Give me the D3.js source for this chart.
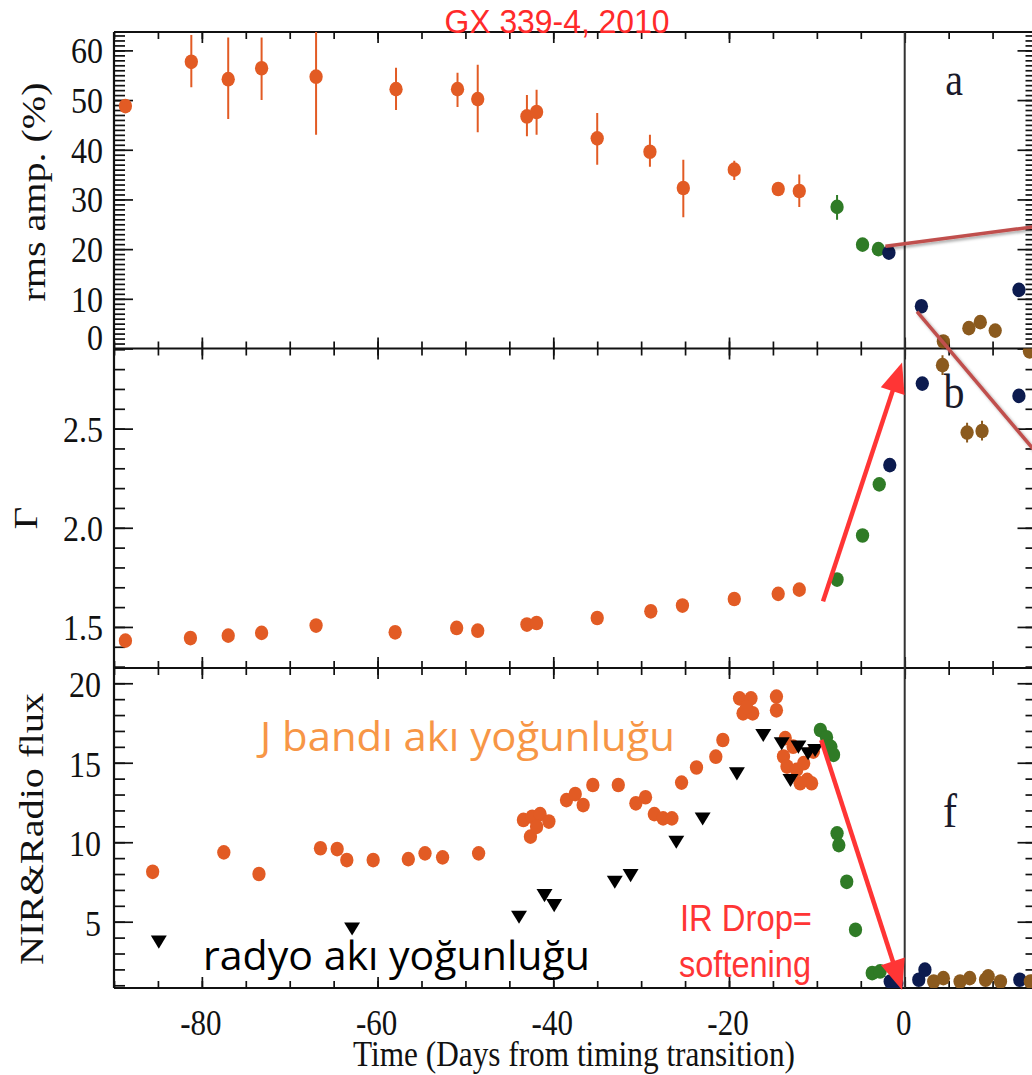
<!DOCTYPE html>
<html>
<head>
<meta charset="utf-8">
<script src="https://cdn.jsdelivr.net/npm/d3@7"></script>
<style>
  body { margin: 0; background: #fff; }
  svg { display: block; }
</style>
</head>
<body>
<svg id="chart" width="1032" height="1075"></svg>
<script>
// ---- Data: [day, value, errLow, errHigh] ----
// Panel a: fractional rms amplitude (%)
const rmsHard = [
  [-88.7, 48.8], [-81.2, 57.7, 52.6, 63.1], [-77.0, 54.2, 46.2, 62.6],
  [-73.2, 56.4, 50.0, 62.6], [-67.0, 54.7, 43.0, 64.5], [-57.9, 52.2, 48.0, 56.5],
  [-50.9, 52.2, 48.6, 55.5], [-48.6, 50.2, 43.5, 57.1], [-43.0, 46.7, 42.7, 51.0],
  [-41.9, 47.6, 43.0, 52.1], [-35.0, 42.3, 37.0, 47.4], [-29.0, 39.6, 36.6, 43.0],
  [-25.2, 32.3, 26.4, 38.0], [-19.4, 36.0, 33.9, 37.8], [-14.4, 32.1, 31.0, 33.2],
  [-12.0, 31.7, 28.5, 35.0]
];
const rmsHIMS = [[-7.7, 28.5, 25.9, 30.9], [-4.8, 20.9], [-3.0, 20.0]];
const rmsSIMS = [[-1.8, 19.3], [1.9, 8.5], [13.0, 11.8]];
const rmsSoft = [[4.4, 1.4], [7.3, 4.1], [8.6, 5.3], [10.3, 3.6]];

// Panel b: photon index
const gammaHard = [
  [-88.7, 1.431], [-81.3, 1.444], [-77.0, 1.456], [-73.2, 1.470], [-67.0, 1.507],
  [-58.0, 1.473], [-51.0, 1.495], [-48.6, 1.481], [-43.0, 1.512], [-41.9, 1.520],
  [-35.0, 1.545], [-28.9, 1.579], [-25.3, 1.608], [-19.4, 1.641], [-14.4, 1.667],
  [-12.0, 1.688]
];
const gammaHIMS = [[-7.7, 1.739], [-4.8, 1.961], [-2.9, 2.219]];
const gammaSIMS = [[-1.7, 2.316], [2.0, 2.727, 2.70, 2.755], [13.0, 2.665]];
const gammaSoft = [[4.3, 2.82, 2.77, 2.87], [7.1, 2.48, 2.43, 2.53], [8.8, 2.488, 2.44, 2.54], [14.2, 2.89]];

// Panel f: J-band (NIR) and radio flux
const nirHard = [
  [-85.6, 8.14], [-77.5, 9.36], [-73.5, 8.00], [-66.5, 9.62], [-64.6, 9.57],
  [-63.5, 8.88], [-60.5, 8.88], [-56.5, 8.94], [-54.6, 9.30], [-52.6, 9.05],
  [-48.5, 9.30], [-43.4, 11.40], [-42.4, 11.60], [-41.5, 11.77], [-40.5, 11.30],
  [-42.6, 10.35], [-41.9, 10.97], [-38.5, 12.65], [-37.5, 13.03], [-36.6, 12.34],
  [-35.5, 13.60], [-32.6, 13.60], [-30.6, 12.45], [-29.5, 12.83], [-28.5, 11.77],
  [-27.5, 11.50], [-26.5, 11.50], [-25.4, 13.75], [-23.7, 14.70], [-21.5, 15.38],
  [-20.7, 16.43], [-18.8, 19.05], [-17.5, 19.05], [-18.4, 18.11], [-17.3, 18.11],
  [-18.0, 18.50], [-14.6, 19.16], [-14.6, 18.30], [-13.6, 16.55], [-13.8, 15.39],
  [-13.4, 14.76], [-12.3, 14.55], [-11.5, 14.97], [-11.1, 13.92], [-10.6, 13.71],
  [-11.9, 13.71], [-12.7, 16.01], [-10.4, 15.70]
];
const radioFlux = [
  [-84.9, 3.85], [-62.9, 4.68], [-43.9, 5.42], [-41.0, 6.78], [-39.9, 6.15],
  [-33.0, 7.62], [-31.2, 8.04], [-26.0, 10.14], [-23.0, 11.60], [-19.1, 14.44],
  [-16.1, 16.85], [-14.0, 16.33], [-13.0, 14.02], [-12.1, 16.12], [-11.0, 15.70],
  [-10.2, 15.91]
];
const nirHIMS = [
  [-9.6, 17.06], [-8.9, 16.60], [-8.4, 16.00], [-8.1, 15.50], [-7.7, 10.56],
  [-7.5, 9.82], [-6.6, 7.51], [-5.6, 4.49], [-3.7, 1.77], [-2.8, 1.87]
];
const nirSIMS = [[-1.65, 1.24], [-0.9, 1.14], [1.6, 1.35], [2.3, 1.98], [13.1, 1.35]];
const nirSoft = [[3.3, 1.24], [4.4, 1.45], [6.3, 1.24], [7.4, 1.45], [9.2, 1.35], [9.5, 1.56], [10.9, 1.24], [14.3, 1.24]];

// Axis ticks
const xMajorTicks = [-80, -60, -40, -20, 0];
const rmsTicks = [0, 10, 20, 30, 40, 50, 60];
const gammaTicks = [1.5, 2.0, 2.5];
const fluxTicks = [5, 10, 15, 20];

// Annotation segments (panel a / b / f data coordinates)
const pointerA = [[-2.2, 20.6], [16, 24.8]];
const pointerB = [[1.4, 7.4], [16, -23.1]];
const arrowGamma = [[-9.3, 1.629], [-0.3, 2.833]];
const arrowFlux = [[-9.5, 16.43], [-0.3, 0.71]];

// ---- Layout ----
const X0 = 114, X1 = 1036.5;
const panels = [
  { top: 32, bottom: 348.5 },
  { top: 348.5, bottom: 668 },
  { top: 668, bottom: 988 }
];
const SY = 1.14; // vertical stretch of the typeset text
const SERIF = "'Liberation Serif','Times New Roman',serif";
const SANS = "'Liberation Sans',Arial,sans-serif";
const CAL = "'Open Sans','Noto Sans',sans-serif";

const C = {
  hard: "#e25b24", hims: "#2f7b26", sims: "#0c1b4f", soft: "#8b5a1e",
  radio: "#000000", axis: "#111111", title: "#ff2a2a", pointer: "#c0504d",
  arrow: "#ff3535", jband: "#f79646"
};

const svg = d3.select("#chart");
const defs = svg.append("defs");
const shadow = defs.append("filter").attr("id", "shadow")
  .attr("x", "-10%").attr("y", "-10%").attr("width", "130%").attr("height", "130%");
shadow.append("feDropShadow").attr("dx", 2).attr("dy", 2).attr("stdDeviation", 1.5)
  .attr("flood-color", "#000").attr("flood-opacity", 0.35);

const x = d3.scaleLinear().domain([-90, 15]).range([X0, X1]);
const yA = d3.scaleLinear().domain([0, 63.7]).range([panels[0].bottom, panels[0].top]);
const yB = d3.scaleLinear().domain([1.293, 2.904]).range([panels[1].bottom, panels[1].top]);
const yF = d3.scaleLinear().domain([0.83, 20.96]).range([panels[2].bottom, panels[2].top]);

function stext(g, px, py, str, o) {
  const rot = !!o.rotate;
  const sy = o.stretch === false ? 1 : SY;
  const t = g.append("text")
    .attr("transform", `translate(${px},${py})` + (rot ? ` rotate(-90) scale(${sy},1)` : ` scale(1,${sy})`))
    .attr("text-anchor", o.anchor || "start")
    .attr("font-family", o.family || SERIF)
    .attr("font-size", o.size)
    .attr("fill", o.fill || C.axis)
    .text(str);
  if (o.len) t.attr("textLength", rot ? o.len / sy : o.len).attr("lengthAdjust", "spacingAndGlyphs");
  return t;
}

// ---- Panel frames and ticks ----
const axesG = svg.append("g");
function styleAxis(sel) {
  sel.selectAll(".domain").remove();
  sel.selectAll(".tick line").attr("stroke", C.axis).attr("stroke-width", 1.7);
}
function yTicks(y, major, minor, minorLen) {
  [[d3.axisLeft, X0], [d3.axisRight, X1]].forEach(([ax, px]) => {
    axesG.append("g").attr("transform", `translate(${px},0)`)
      .call(ax(y).tickValues(minor).tickSizeInner(-minorLen).tickSizeOuter(0).tickFormat(""))
      .call(styleAxis);
    axesG.append("g").attr("transform", `translate(${px},0)`)
      .call(ax(y).tickValues(major).tickSizeInner(-19).tickSizeOuter(0).tickFormat(""))
      .call(styleAxis);
  });
}
panels.forEach(p => {
  [[d3.axisTop, p.top], [d3.axisBottom, p.bottom]].forEach(([ax, py]) => {
    axesG.append("g").attr("transform", `translate(0,${py})`)
      .call(ax(x).tickValues(d3.range(-90, 16, 5)).tickSizeInner(-7).tickSizeOuter(0).tickFormat(""))
      .call(styleAxis);
    axesG.append("g").attr("transform", `translate(0,${py})`)
      .call(ax(x).tickValues(d3.range(-80, 16, 20)).tickSizeInner(-11).tickSizeOuter(0).tickFormat(""))
      .call(styleAxis);
  });
});
yTicks(yA, rmsTicks, d3.range(0, 64, 1), 11);
yTicks(yB, gammaTicks, d3.range(13, 30).map(v => v / 10), 11);
yTicks(yF, fluxTicks, d3.range(1, 21), 11);

// frame lines
axesG.append("line").attr("x1", X0).attr("x2", X0).attr("y1", panels[0].top).attr("y2", panels[2].bottom)
  .attr("stroke", C.axis).attr("stroke-width", 2.2);
[panels[0].top, panels[0].bottom, panels[1].bottom, panels[2].bottom].forEach(py => {
  axesG.append("line").attr("x1", X0).attr("x2", X1).attr("y1", py).attr("y2", py)
    .attr("stroke", C.axis).attr("stroke-width", 2.2);
});
// timing transition marker
axesG.append("line").attr("x1", x(0)).attr("x2", x(0))
  .attr("y1", panels[0].top).attr("y2", panels[2].bottom)
  .attr("stroke", "#333").attr("stroke-width", 2);

// ---- Tick labels ----
const labG = svg.append("g");
rmsTicks.forEach(v => stext(labG, 103, yA(v) + (v === 0 ? 1 : 13), String(v), { size: 32, anchor: "end" }));
gammaTicks.forEach(v => stext(labG, 103, yB(v) + 13, d3.format(".1f")(v), { size: 32, anchor: "end" }));
fluxTicks.forEach(v => stext(labG, 101, yF(v) + 14, String(v), { size: 32, anchor: "end" }));
xMajorTicks.forEach(v => stext(labG, x(v) - 1, 1035, String(v), { size: 31, anchor: "middle" }));

// ---- Axis titles ----
stext(labG, 45, 192, "rms amp. (%)", { size: 34, anchor: "middle", rotate: true, len: 219 });
stext(labG, 37, 518, "Γ", { size: 34, anchor: "middle", rotate: true });
stext(labG, 43, 829, "NIR&Radio flux", { size: 33, anchor: "middle", rotate: true, len: 272 });
stext(labG, 574, 1066, "Time (Days from timing transition)", { size: 31, anchor: "middle", len: 442 });
stext(labG, 557, 32.5, "GX 339-4, 2010", { size: 34, anchor: "middle", family: SANS, fill: C.title, len: 225, stretch: false });

// panel letters
stext(labG, 954, 95, "a", { size: 40, anchor: "middle", fill: "#1a1a2a" });
stext(labG, 954, 408, "b", { size: 42, anchor: "middle", fill: "#1a1a2a" });
stext(labG, 950, 827, "f", { size: 42, anchor: "middle", fill: "#1a1a2a" });

// ---- Data marks ----
function clipFor(i, p) {
  defs.append("clipPath").attr("id", "clip" + i).append("rect")
    .attr("x", X0).attr("y", p.top).attr("width", X1 - X0).attr("height", p.bottom - p.top);
  return svg.append("g").attr("clip-path", `url(#clip${i})`);
}
const gA = clipFor(0, panels[0]);
const gB = clipFor(1, panels[1]);
const gF = clipFor(2, panels[2]);

function dots(g, y, data, color, r = 7) {
  const withErr = data.filter(d => d.length > 2);
  g.append("g").selectAll("line").data(withErr).join("line")
    .attr("x1", d => x(d[0])).attr("x2", d => x(d[0]))
    .attr("y1", d => y(d[2])).attr("y2", d => y(d[3]))
    .attr("stroke", color).attr("stroke-width", 2);
  g.append("g").selectAll("ellipse").data(data).join("ellipse")
    .attr("cx", d => x(d[0])).attr("cy", d => y(d[1]))
    .attr("rx", r * 0.95).attr("ry", r * 1.05)
    .attr("fill", color);
}
function triangles(g, y, data, color) {
  const tri = d3.symbol().type(d3.symbolTriangle).size(110);
  g.append("g").selectAll("path").data(data).join("path")
    .attr("d", tri)
    .attr("transform", d => `translate(${x(d[0])},${y(d[1])}) rotate(180) scale(1,0.95)`)
    .attr("fill", color);
}

dots(gA, yA, rmsHard, C.hard);
dots(gA, yA, rmsHIMS, C.hims);
dots(gA, yA, rmsSIMS, C.sims);
dots(gA, yA, rmsSoft, C.soft);

dots(gB, yB, gammaHard, C.hard);
dots(gB, yB, gammaHIMS, C.hims);
dots(gB, yB, gammaSIMS, C.sims);
dots(gB, yB, gammaSoft, C.soft);

dots(gF, yF, nirHard, C.hard);
triangles(gF, yF, radioFlux, C.radio);
dots(gF, yF, nirHIMS, C.hims);
dots(gF, yF, nirSIMS, C.sims);
dots(gF, yF, nirSoft, C.soft);

// ---- Annotations ----
const annG = svg.append("g");
[pointerA, pointerB].forEach(seg => {
  annG.append("line")
    .attr("x1", x(seg[0][0])).attr("y1", yA(seg[0][1]))
    .attr("x2", x(seg[1][0])).attr("y2", yA(seg[1][1]))
    .attr("stroke", C.pointer).attr("stroke-width", 3.5)
    .attr("filter", "url(#shadow)");
});

function arrow(seg, y) {
  const x1 = x(seg[0][0]), y1 = y(seg[0][1]);
  const x2 = x(seg[1][0]), y2 = y(seg[1][1]);
  const len = Math.hypot(x2 - x1, y2 - y1);
  const ux = (x2 - x1) / len, uy = (y2 - y1) / len;
  const L = 30, W = 12.5;
  const bx = x2 - ux * L, by = y2 - uy * L;
  annG.append("line").attr("x1", x1).attr("y1", y1).attr("x2", bx + ux * 2).attr("y2", by + uy * 2)
    .attr("stroke", C.arrow).attr("stroke-width", 4.5);
  annG.append("path")
    .attr("d", `M${x2},${y2}L${bx - uy * W},${by + ux * W}L${bx + uy * W},${by - ux * W}Z`)
    .attr("fill", C.arrow);
}
arrow(arrowGamma, yB);
arrow(arrowFlux, yF);

stext(annG, 680, 931, "IR Drop=", { size: 33, family: SANS, fill: C.arrow, len: 132 });
stext(annG, 679, 977, "softening", { size: 33, family: SANS, fill: C.arrow, len: 132 });

annG.append("text").attr("x", 260).attr("y", 751)
  .attr("font-family", CAL).attr("font-size", 41).attr("fill", C.jband)
  .attr("textLength", 415).attr("lengthAdjust", "spacingAndGlyphs")
  .text("J bandı akı yoğunluğu");
annG.append("text").attr("x", 203).attr("y", 970)
  .attr("font-family", CAL).attr("font-size", 41).attr("fill", "#000")
  .attr("textLength", 387).attr("lengthAdjust", "spacingAndGlyphs")
  .text("radyo akı yoğunluğu");
</script>
</body>
</html>
